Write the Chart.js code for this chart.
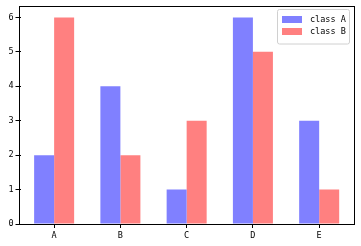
<!DOCTYPE html>
<html>
<head>
<meta charset="utf-8">
<script src="https://cdn.jsdelivr.net/npm/chart.js@4/dist/chart.umd.min.js"></script>
<style>
html,body{margin:0;padding:0;background:#fff;}
#wrap{width:361px;height:246px;}
</style>
</head>
<body>
<div id="wrap"><canvas id="c" width="361" height="246"></canvas></div>
<script>
const categories = ["A", "B", "C", "D", "E"];
const classA = [2, 4, 1, 6, 3];
const classB = [6, 2, 3, 5, 1];
const seriesNames = ["class A", "class B"];
const yTicks = [0, 1, 2, 3, 4, 5, 6];

const FONT = "'DejaVu Sans Mono', monospace";

const frame = {
  id: 'frame',
  afterDraw(chart) {
    const {ctx, chartArea: a} = chart;
    ctx.save();
    ctx.strokeStyle = '#000';
    ctx.lineWidth = 1;
    // axes box (matplotlib x-margin extends slightly beyond the category band)
    const L = 19.5, R = 354.5, T = 6.5, B = Math.round(a.bottom) + 0.5;
    ctx.strokeRect(L, T, R - L, B - T);
    // legend
    const x0 = 277.5, y0 = 9.5, w = 72, h = 34.5, r = 2;
    ctx.beginPath();
    ctx.moveTo(x0 + r, y0);
    ctx.arcTo(x0 + w, y0, x0 + w, y0 + h, r);
    ctx.arcTo(x0 + w, y0 + h, x0, y0 + h, r);
    ctx.arcTo(x0, y0 + h, x0, y0, r);
    ctx.arcTo(x0, y0, x0 + w, y0, r);
    ctx.closePath();
    ctx.fillStyle = 'rgba(255,255,255,0.8)';
    ctx.fill();
    ctx.strokeStyle = '#d0d0d0';
    ctx.stroke();
    chart.data.datasets.forEach((ds, i) => {
      const cy = 19 + i * 12;
      ctx.fillStyle = ds.backgroundColor;
      ctx.fillRect(282, cy - 3, 20, 7);
      ctx.fillStyle = '#000';
      ctx.font = "8.5px " + FONT;
      ctx.textBaseline = 'middle';
      ctx.textAlign = 'left';
      ctx.fillText(ds.label, 310, cy + 0.5);
    });
    ctx.restore();
  }
};

new Chart(document.getElementById('c'), {
  type: 'bar',
  data: {
    labels: categories,
    datasets: [
      {label: seriesNames[0], data: classA, backgroundColor: 'rgb(128,128,255)', borderWidth: 0},
      {label: seriesNames[1], data: classB, backgroundColor: 'rgb(255,128,128)', borderWidth: 0}
    ]
  },
  options: {
    responsive: false,
    animation: false,
    devicePixelRatio: 1,
    layout: {padding: {top: 6, right: 8.7, left: 0, bottom: 0}},
    plugins: {legend: {display: false}, tooltip: {enabled: false}},
    datasets: {bar: {categoryPercentage: 0.604, barPercentage: 1}},
    scales: {
      x: {
        type: 'category',
        offset: true,
        grid: {offset: false, drawOnChartArea: false, drawTicks: true, tickLength: 4, color: '#000'},
        border: {display: false},
        ticks: {color: '#000', font: {family: FONT, size: 8.5}, padding: 3, maxRotation: 0},
        afterFit(s) { s.height = 22; }
      },
      y: {
        min: 0, max: 6.3,
        grid: {drawOnChartArea: false, drawTicks: true, tickLength: 5.5, color: '#000'},
        border: {display: false},
        ticks: {color: '#000', font: {family: FONT, size: 8.5}, padding: 2},
        afterBuildTicks(s) { s.ticks = yTicks.map(v => ({value: v})); },
        afterFit(s) { s.width = 21; }
      }
    }
  },
  plugins: [frame]
});
</script>
</body>
</html>
